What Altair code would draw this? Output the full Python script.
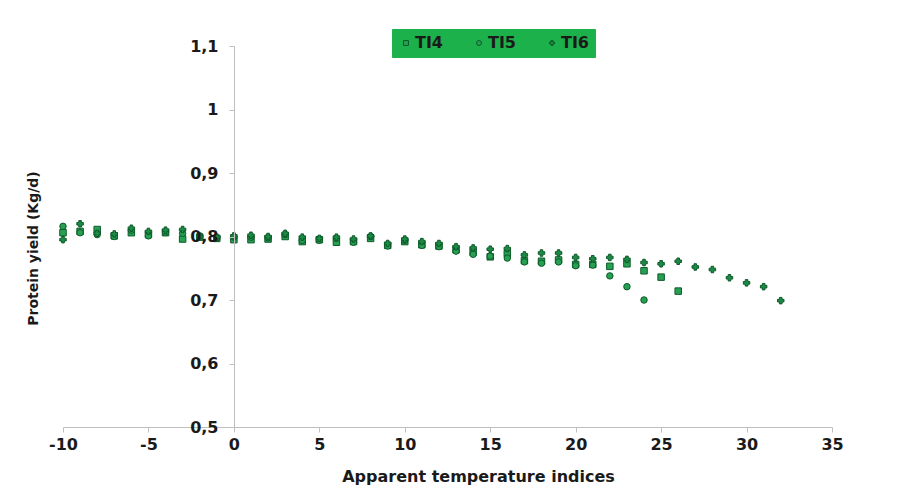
import altair as alt
import pandas as pd

# Apparent temperature index values
x_ti4 = list(range(-10, 27))
x_ti5 = list(range(-10, 25))
x_ti6 = list(range(-10, 33))

ti4 = [0.806, 0.808, 0.811, 0.801, 0.806, 0.803, 0.806, 0.796, 0.799, 0.797,
       0.795, 0.795, 0.796, 0.800, 0.792, 0.795, 0.791, 0.792, 0.797, 0.786,
       0.792, 0.787, 0.785, 0.779, 0.775, 0.768, 0.773, 0.762, 0.761, 0.763,
       0.756, 0.756, 0.753, 0.757, 0.746, 0.736, 0.714]

ti5 = [0.816, 0.806, 0.803, 0.800, 0.810, 0.801, 0.807, 0.805, 0.801, 0.798,
       0.799, 0.799, 0.798, 0.803, 0.794, 0.794, 0.797, 0.791, 0.800, 0.785,
       0.794, 0.786, 0.784, 0.777, 0.772, 0.769, 0.766, 0.760, 0.758, 0.760,
       0.754, 0.755, 0.738, 0.721, 0.700]

ti6 = [0.795, 0.820, 0.805, 0.804, 0.813, 0.808, 0.810, 0.811, 0.800, 0.799,
       0.801, 0.802, 0.800, 0.805, 0.799, 0.797, 0.799, 0.796, 0.801, 0.789,
       0.796, 0.792, 0.789, 0.784, 0.782, 0.780, 0.781, 0.771, 0.774, 0.774,
       0.767, 0.765, 0.767, 0.764, 0.759, 0.757, 0.761, 0.752, 0.748, 0.735,
       0.727, 0.721, 0.699]

series = ["TI4", "TI5", "TI6"]
shapes = ["square", "circle", "cross"]
fills = ["#27a052", "#27a052", "#1d8a45"]
x_ticks = [-10, -5, 0, 5, 10, 15, 20, 25, 30, 35]
y_ticks = [0.5, 0.6, 0.7, 0.8, 0.9, 1.0, 1.1]

rows = []
for name, xs, ys in [("TI4", x_ti4, ti4), ("TI5", x_ti5, ti5), ("TI6", x_ti6, ti6)]:
    for a, b in zip(xs, ys):
        rows.append({"x": a, "y": b, "series": name})
df = pd.DataFrame(rows)

FONT = "DejaVu Sans"

chart = alt.Chart(df).mark_point(
    filled=True, stroke="#0c5a2a", strokeWidth=1, size=42, opacity=1
).encode(
    x=alt.X("x:Q",
            scale=alt.Scale(domain=[-10, 35], nice=False, zero=False),
            axis=alt.Axis(values=x_ticks, title="Apparent temperature indices",
                          labelExpr="toString(datum.value)",
                          grid=False, domainColor="#bfbfbf", tickColor="#bfbfbf",
                          tickSize=5, labelPadding=4, labelFlush=False, labelOverlap=False,
                          labelFont=FONT, labelFontSize=16, labelFontWeight="bold",
                          labelColor="#1a1a1a",
                          titleFont=FONT, titleFontSize=16, titleFontWeight="bold",
                          titleColor="#1a1a1a", titleX=415, titleY=49,
                          titleBaseline="middle")),
    y=alt.Y("y:Q",
            scale=alt.Scale(domain=[0.5, 1.1], nice=False, zero=False),
            axis=alt.Axis(values=y_ticks, title="Protein yield (Kg/d)",
                          labelExpr="replace(format(datum.value, '.1~f'), '.', ',')",
                          offset=-171, zindex=1,
                          grid=False, domainColor="#bfbfbf", tickColor="#bfbfbf",
                          tickSize=5, labelPadding=11, labelOverlap=False, labelFlush=False,
                          labelFont=FONT, labelFontSize=16, labelFontWeight="bold",
                          labelColor="#1a1a1a",
                          titleFont=FONT, titleFontSize=14, titleFontWeight="bold",
                          titleColor="#1a1a1a", titleX=-194, titleY=202)),
    fill=alt.Fill("series:N", scale=alt.Scale(domain=series, range=fills), legend=None),
    shape=alt.Shape("series:N",
                    scale=alt.Scale(domain=series, range=shapes),
                    legend=alt.Legend(title=None, orient="none", legendX=329, legendY=-17,
                                      direction="horizontal", fillColor="#1db14b",
                                      strokeColor="#1db14b", padding=6,
                                      columnPadding=28, symbolSize=24,
                                      symbolFillColor="#6fd08e",
                                      symbolStrokeColor="#0c5a2a",
                                      symbolStrokeWidth=1, labelOffset=1,
                                      labelFont=FONT, labelFontSize=16,
                                      labelFontWeight="bold", labelColor="#1a1a1a")),
).properties(
    width=769, height=381,
    autosize=alt.AutoSizeParams(type="none"),
    padding={"left": 55, "top": 38, "right": 40, "bottom": 60},
    background="white",
).configure_view(stroke=None)

chart.save("out.html", embed_options={"renderer": "svg", "actions": False})
